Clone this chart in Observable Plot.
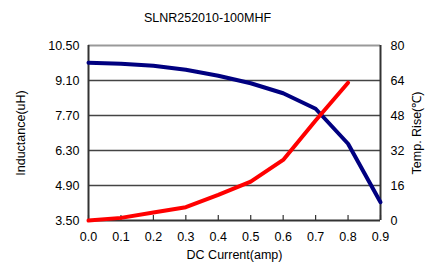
<!DOCTYPE html>
<html>
<head>
<meta charset="utf-8">
<script src="https://cdn.jsdelivr.net/npm/d3@7"></script>
<script src="https://cdn.jsdelivr.net/npm/@observablehq/plot@0.6"></script>
<style>
html,body{margin:0;padding:0;background:#fff;}
</style>
</head>
<body>
<div id="chart"></div>
<script>
const title = "SLNR252010-100MHF";
const current = [0.0, 0.1, 0.2, 0.3, 0.4, 0.5, 0.6, 0.7, 0.8, 0.9];
const inductance = [9.81, 9.77, 9.69, 9.53, 9.29, 8.99, 8.59, 7.97, 6.57, 4.23];
const tempCurrent = [0.0, 0.1, 0.2, 0.3, 0.4, 0.5, 0.6, 0.7, 0.8];
const tempRise = [0, 1.2, 3.7, 6.1, 11.7, 17.8, 27.7, 45.7, 63];
const yTicks = [3.5, 4.9, 6.3, 7.7, 9.1, 10.5];
const rightTicks = [0, 16, 32, 48, 64, 80];
const xTicks = [0.0, 0.1, 0.2, 0.3, 0.4, 0.5, 0.6, 0.7, 0.8, 0.9];

const yMin = 3.5, yMax = 10.5, tMax = 80;
const toL = t => yMin + t / tMax * (yMax - yMin);

const indData = current.map((c, i) => ({c, v: inductance[i]}));
const tData = tempCurrent.map((c, i) => ({c, v: toL(tempRise[i])}));
const rightMap = new Map(rightTicks.map(t => [toL(t).toFixed(4), t]));

const font = "Liberation Sans, Arial, sans-serif";

const chart = Plot.plot({
  width: 427,
  height: 265,
  marginLeft: 88,
  marginRight: 47,
  marginTop: 45,
  marginBottom: 45,
  style: {fontFamily: font, fontSize: "12px", color: "#000", background: "#fff"},
  x: {domain: [0, 0.9]},
  y: {domain: [yMin, yMax]},
  marks: [
    Plot.ruleY(yTicks.slice(1, -1), {stroke: "#444", strokeWidth: 1.5}),
    Plot.ruleY([yMax], {stroke: "#999", strokeWidth: 2}),
    Plot.ruleY([yMin], {stroke: "#333", strokeWidth: 2}),
    Plot.ruleX([0, 0.9], {stroke: "#333", strokeWidth: 2}),
    Plot.ruleX(xTicks, {x: d => d, y1: yMin, y2: yMin + 0.2, stroke: "#333", strokeWidth: 1.2}),
    Plot.line(indData, {x: "c", y: "v", stroke: "#000080", strokeWidth: 4, strokeLinejoin: "miter"}),
    Plot.line(tData, {x: "c", y: "v", stroke: "#ff0000", strokeWidth: 4, strokeLinejoin: "miter"}),
    Plot.axisX({ticks: xTicks, tickSize: 0, tickPadding: 12, tickFormat: d => d.toFixed(1), fontSize: 12.5,
      label: "DC Current(amp)", labelAnchor: "center", labelArrow: "none", labelOffset: 38}),
    Plot.axisY({anchor: "left", ticks: yTicks, tickSize: 0, tickPadding: 9, tickFormat: d => d.toFixed(2), fontSize: 12.5,
      label: "Inductance(uH)", labelAnchor: "center", labelArrow: "none", labelOffset: 72}),
    Plot.axisY({anchor: "right", ticks: yTicks, tickSize: 0, tickPadding: 10, fontSize: 12.5,
      tickFormat: d => String(rightMap.get(d.toFixed(4))),
      label: "Temp. Rise(℃)", labelAnchor: "center", labelArrow: "none", labelOffset: 40}),
    Plot.text([title], {frameAnchor: "top", dy: -32, fontSize: 12.5, fill: "#000", dx: -27})
  ]
});
document.getElementById("chart").appendChild(chart);
</script>
</body>
</html>
